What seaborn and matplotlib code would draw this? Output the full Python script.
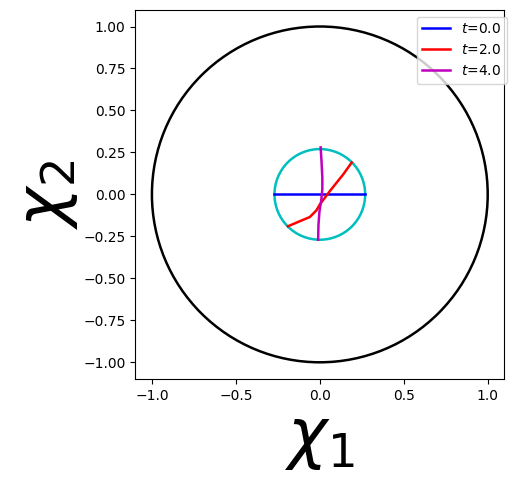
import matplotlib
matplotlib.use("Agg")
import matplotlib.pyplot as plt
import seaborn as sns
import pandas as pd

# ─── Data ─────────────────────────────────────────────────────────────────────
OUTER_RADIUS = 1.0
INNER_RADIUS = 0.27

times = ["0.0", "2.0", "4.0"]
colors = ["b", "r", "m"]

# material line at t=0
x_t0 = [-0.27, -0.135, 0.0, 0.135, 0.27]
y_t0 = [0.0, 0.0, 0.0, 0.0, 0.0]

# material line at t=2
x_t2 = [-0.19, -0.12, -0.06, -0.02, 0.0, 0.03, 0.06, 0.10, 0.14, 0.19]
y_t2 = [-0.19, -0.16, -0.135, -0.095, -0.06, -0.02, 0.02, 0.07, 0.12, 0.19]

# material line at t=4
x_t4 = [0.005, 0.01, 0.015, 0.015, 0.008, -0.002, -0.008, -0.01]
y_t4 = [0.28, 0.20, 0.10, 0.03, -0.04, -0.10, -0.18, -0.27]

xticks = [-1.0, -0.5, 0.0, 0.5, 1.0]
yticks = [-1.0, -0.75, -0.5, -0.25, 0.0, 0.25, 0.5, 0.75, 1.0]

fig = plt.figure(figsize=(5.15, 4.86), dpi=100)
ax = fig.add_axes([0.262, 0.220, 0.718, 0.760])

ax.add_patch(plt.Circle((0, 0), OUTER_RADIUS, fill=False, color="k", lw=1.8))
ax.add_patch(plt.Circle((0, 0), INNER_RADIUS, fill=False, color="c", lw=1.8))

for xs, ys, t, c in zip([x_t0, x_t2, x_t4], [y_t0, y_t2, y_t4], times, colors):
    df = pd.DataFrame({"x": xs, "y": ys})
    sns.lineplot(data=df, x="x", y="y", sort=False, estimator=None,
                 color=c, lw=1.8, label=f"$t$={t}", ax=ax)

ax.set_xlim(-1.1, 1.1)
ax.set_ylim(-1.1, 1.1)
ax.set_aspect("equal")
ax.set_xticks(xticks)
ax.set_yticks(yticks)
ax.set_xlabel(r"$\chi_1$", fontsize=48, labelpad=2)
ax.set_ylabel(r"$\chi_2$", fontsize=48, labelpad=2)
ax.legend(loc="upper right", bbox_to_anchor=(1.025, 1.0))

fig.savefig("out.png", dpi=100)
